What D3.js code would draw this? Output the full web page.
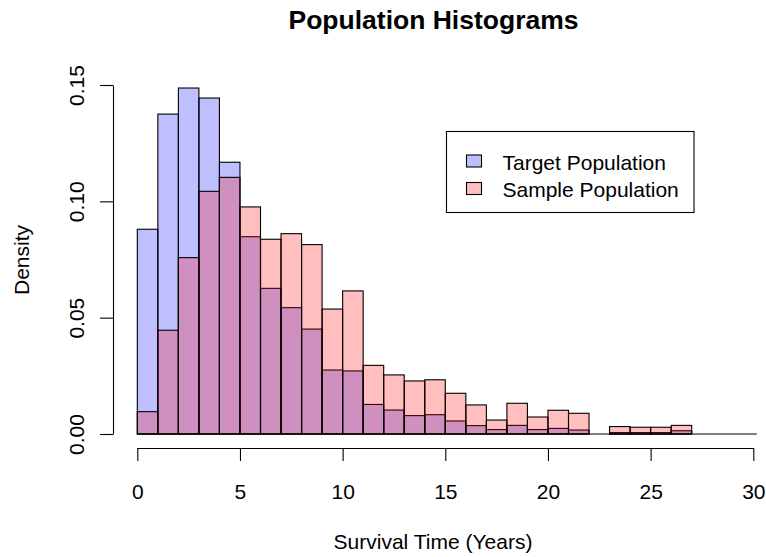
<!DOCTYPE html>
<html>
<head>
<meta charset="utf-8">
<script src="https://cdn.jsdelivr.net/npm/d3@7"></script>
<style>
html,body{margin:0;padding:0;background:#fff;}
svg text{font-family:"Liberation Sans", Arial, sans-serif;fill:#000;}
</style>
</head>
<body>
<svg id="chart" width="766" height="557"></svg>
<script>
// Bin edges (years), width 1 from 0 to 27
const binStarts = d3.range(0, 27);
const binWidth = 1;
// Density values per bin
const targetDensity = [0.0880, 0.1375, 0.1487, 0.1444, 0.1168, 0.0848, 0.0626, 0.0543, 0.0451, 0.0275,
  0.0271, 0.0127, 0.0103, 0.0079, 0.0083, 0.0056, 0.0036, 0.0019, 0.0037, 0.0019,
  0.0024, 0.0017, 0, 0.0006, 0.0006, 0.0006, 0.0014];
const sampleDensity = [0.0096, 0.0446, 0.0758, 0.1043, 0.1103, 0.0976, 0.0837, 0.0861, 0.0814, 0.0537,
  0.0615, 0.0295, 0.0254, 0.0228, 0.0233, 0.0175, 0.0125, 0.0060, 0.0132, 0.0073,
  0.0102, 0.0089, 0, 0.0032, 0.0029, 0.0029, 0.0037];
const xTicks = [0, 5, 10, 15, 20, 25, 30];
const yTicks = [0.00, 0.05, 0.10, 0.15];
const seriesNames = ["Target Population", "Sample Population"];
const seriesColors = ["rgba(0,0,255,0.25)", "rgba(255,0,0,0.25)"];

const svg = d3.select("#chart");
const x = d3.scaleLinear().domain([0, 30]).range([137.3, 753.3]);
const y = d3.scaleLinear().domain([0, 0.15]).range([434, 85]);

// Title
svg.append("text").attr("x", 433.5).attr("y", 29).attr("text-anchor", "middle")
  .style("font-weight", "bold").style("font-size", "26.5px").text("Population Histograms");

// Bars
[targetDensity, sampleDensity].forEach((vals, si) => {
  svg.append("g").selectAll("rect").data(binStarts.map((s, i) => ({s, v: vals[i]})).filter(d => d.v > 0))
    .join("rect")
    .attr("x", d => x(d.s))
    .attr("width", d => x(d.s + binWidth) - x(d.s))
    .attr("y", d => y(d.v))
    .attr("height", d => y(0) - y(d.v))
    .attr("fill", seriesColors[si])
    .attr("stroke", "#000")
    .attr("stroke-width", 1.1);
});

// Baseline
svg.append("line").attr("x1", x(0)).attr("x2", x(30.17)).attr("y1", y(0)).attr("y2", y(0))
  .attr("stroke", "#000").attr("stroke-width", 1.1);

// X axis
const xAxis = d3.axisBottom(x).tickValues(xTicks).tickSize(13).tickSizeOuter(0).tickFormat(d3.format("d"));
const gx = svg.append("g").attr("transform", "translate(0,448)").call(xAxis);
gx.select(".domain").attr("stroke", "#000").attr("stroke-width", 1.1);
gx.selectAll(".tick line").attr("stroke", "#000").attr("stroke-width", 1.1);
gx.selectAll(".tick text").attr("y", 0).attr("dy", 0)
  .attr("transform", "translate(0,51)")
  .style("font-size", "21px").attr("fill", "#000");

// Y axis
const yAxis = d3.axisLeft(y).tickValues(yTicks).tickSize(13).tickSizeOuter(0).tickFormat(d3.format(".2f"));
const gy = svg.append("g").attr("transform", "translate(113,0)").call(yAxis);
gy.select(".domain").attr("stroke", "#000").attr("stroke-width", 1.1);
gy.selectAll(".tick line").attr("stroke", "#000").attr("stroke-width", 1.1);
gy.selectAll(".tick text").attr("x", 0).attr("dy", 0)
  .attr("text-anchor", "middle")
  .attr("transform", "translate(-29,0) rotate(-90)")
  .style("font-size", "21px").attr("fill", "#000");

// Axis titles
svg.append("text").attr("x", 433).attr("y", 549).attr("text-anchor", "middle")
  .style("font-size", "21px").text("Survival Time (Years)");
svg.append("text").attr("transform", "translate(29,260) rotate(-90)").attr("text-anchor", "middle")
  .style("font-size", "21px").text("Density");

// Legend
const lg = svg.append("g");
lg.append("rect").attr("x", 446.5).attr("y", 131.5).attr("width", 247.5).attr("height", 81)
  .attr("fill", "#fff").attr("stroke", "#000").attr("stroke-width", 1.1);
seriesNames.forEach((name, i) => {
  const yy = 155 + i * 27.5;
  lg.append("rect").attr("x", 466.5).attr("y", yy).attr("width", 15).attr("height", 12)
    .attr("fill", seriesColors[i]).attr("stroke", "#000").attr("stroke-width", 1.1);
  lg.append("text").attr("x", 502.5).attr("y", yy + 14.5).style("font-size", "21px").text(name);
});
</script>
</body>
</html>
